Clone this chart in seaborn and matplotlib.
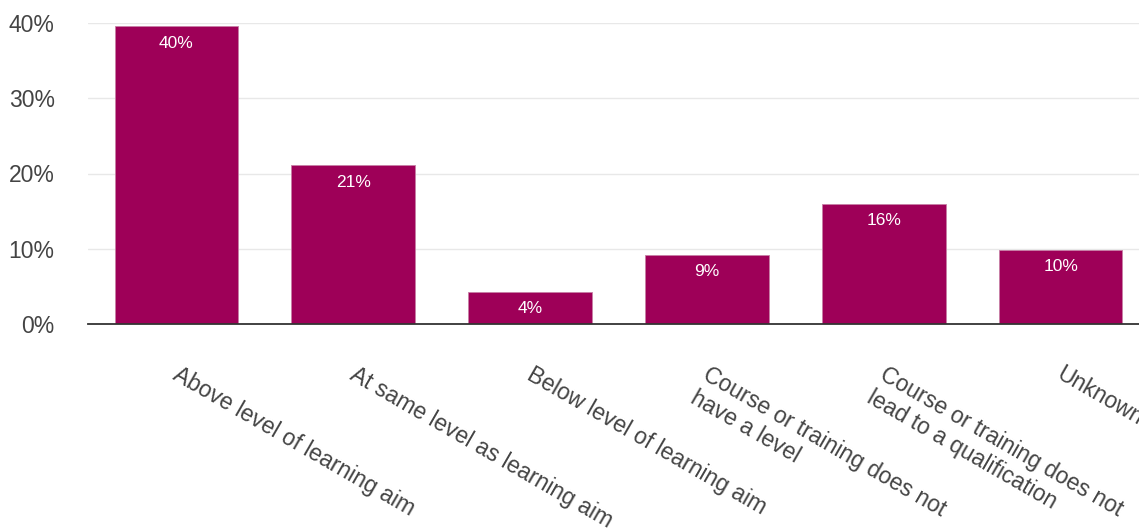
import matplotlib
matplotlib.use("Agg")
import matplotlib.pyplot as plt
import matplotlib.transforms as mtransforms
import seaborn as sns
import pandas as pd

categories = [
    "Above level of learning aim",
    "At same level as learning aim",
    "Below level of learning aim",
    "Course or training does not\nhave a level",
    "Course or training does not\nlead to a qualification",
    "Unknown",
]
shares = [39.6, 21.1, 4.3, 9.2, 16.0, 9.9]
y_ticks = [0, 10, 20, 30, 40]
y_tick_labels = ["0%", "10%", "20%", "30%", "40%"]

bar_color = "#9e0058"
text_color = "#444444"

sns.set_theme(style="white")
plt.rcParams["font.family"] = ["Liberation Sans", "DejaVu Sans"]

df = pd.DataFrame({"category": categories, "share": shares})

fig = plt.figure(figsize=(11.39, 5.28), dpi=100)
ax = fig.add_axes([88 / 1139, (528 - 324) / 528, 1061 / 1139, 301 / 528])

sns.barplot(data=df, x="category", y="share", color=bar_color, width=0.7,
            saturation=1, ax=ax, zorder=3)
for p in ax.patches:
    p.set_edgecolor("#c77fa6")
    p.set_linewidth(0.6)

ax.set_xlim(-0.5, len(categories) - 0.5)
ax.set_ylim(0, 40)
ax.set_yticks(y_ticks)
ax.set_yticklabels(y_tick_labels)
ax.yaxis.grid(True, color="#e8e8e8", linewidth=1, zorder=0)
ax.xaxis.grid(False)
ax.set_xlabel("")
ax.set_ylabel("")

for side in ["top", "right", "left"]:
    ax.spines[side].set_visible(False)
ax.spines["bottom"].set_color("#333333")
ax.spines["bottom"].set_linewidth(1.3)
ax.spines["bottom"].set_zorder(4)

ax.tick_params(axis="y", length=0, pad=24, labelsize=16.5, labelcolor=text_color)
ax.tick_params(axis="x", length=0, pad=28, labelsize=16.5, labelcolor=text_color)
ax.set_xticks(range(len(categories)))
ax.set_xticklabels(categories, rotation=-30, ha="left", va="top",
                   rotation_mode="anchor")

# nudge the slanted category labels a little to the right
shift = mtransforms.ScaledTranslation(4 / 100, 0, fig.dpi_scale_trans)
for lbl in ax.get_xticklabels():
    lbl.set_transform(lbl.get_transform() + shift)

for i, v in enumerate(shares):
    ax.annotate(f"{v:.0f}%", xy=(i, v), xytext=(0, -7), textcoords="offset points",
                ha="center", va="top", color="white", fontsize=12.5, zorder=5)

fig.savefig("out.png", dpi=100)
